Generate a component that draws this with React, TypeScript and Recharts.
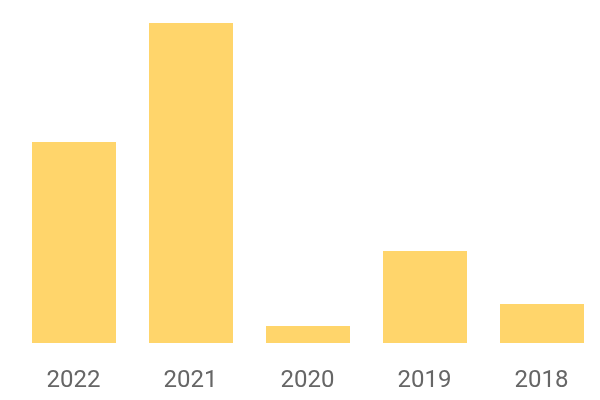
import { BarChart, Bar, XAxis, YAxis } from 'recharts';

// Years, newest first as in the picture
const years = ['2022', '2021', '2020', '2019', '2018'];
// Bar heights (relative units, no axis shown)
const values = [201, 320, 17, 92, 39];

const data = years.map((year, i) => ({ year, value: values[i] }));

export default function App() {
  return (
    <div style={{ position: 'fixed', top: 0, left: 0 }}>
      <BarChart
        width={600}
        height={400}
        data={data}
        margin={{ top: 23, right: 0, bottom: 17, left: 15 }}
      >
        <XAxis
          dataKey="year"
          axisLine={false}
          tickLine={false}
          tickSize={0}
          tickMargin={27}
          height={40}
          tick={{ fill: '#666666', fontSize: 24, fontFamily: 'Roboto' }}
        />
        <YAxis hide domain={[0, 320]} />
        <Bar dataKey="value" fill="#FFD56B" barSize={84} isAnimationActive={false} />
      </BarChart>
    </div>
  );
}
